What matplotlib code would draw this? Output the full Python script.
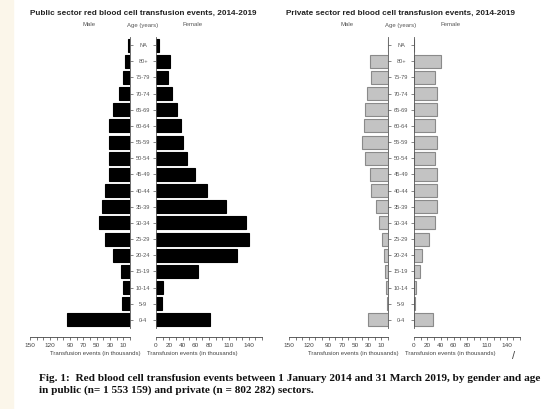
import matplotlib
matplotlib.use('Agg')
from matplotlib import pyplot as plt
from matplotlib.patches import Rectangle

ages = ['0-4', '5-9', '10-14', '15-19', '20-24', '25-29', '30-34', '35-39',
        '40-44', '45-49', '50-54', '55-59', '60-64', '65-69', '70-74',
        '75-79', '80+', 'NA']

# Transfusion events in thousands, ordered as ages above
public_male = [95, 12, 11, 14, 26, 38, 46, 42, 37, 32, 31, 32, 31, 25, 17, 11, 8, 3]
public_female = [82, 9, 11, 64, 122, 141, 136, 105, 77, 59, 47, 40, 37, 32, 24, 18, 21, 4]
private_male = [31, 2, 3, 5, 6, 9, 14, 18, 25, 28, 35, 40, 37, 35, 32, 26, 28, 0.5]
private_female = [29, 2, 3, 9, 12, 22, 32, 35, 35, 34, 31, 35, 32, 35, 34, 31, 40, 0.5]

male_ticks = list(range(0, 160, 10))
male_labels = [150, 120, 90, 70, 50, 30, 10]
female_ticks = list(range(0, 170, 10))
female_labels = [0, 20, 40, 60, 80, 110, 140]

W, H = 551, 409
fig = plt.figure(figsize=(W / 100, H / 100), dpi=100)
fig.patches.append(Rectangle((0, 0), 13 / W, 1, transform=fig.transFigure,
                             color='#fbf6ea', zorder=0))

plt.rcParams['font.family'] = 'Liberation Sans'


def px_axes(x0, x1, y0=37, y1=328):
    return fig.add_axes([x0 / W, 1 - y1 / H, (x1 - x0) / W, (y1 - y0) / H])


def style(ax, ticks, labels):
    ax.set_ylim(-0.5, len(ages) - 0.5)
    ax.spines['top'].set_visible(False)
    ax.spines['bottom'].set_position(('outward', 6.5))
    ax.spines['bottom'].set_linewidth(0.6)
    ax.spines['bottom'].set_color('#444444')
    ax.set_xticks(ticks)
    ax.set_xticklabels([str(t) if t in labels else '' for t in ticks])
    ax.tick_params(axis='x', length=2.5, width=0.5, labelsize=4.6,
                   pad=2, colors='#444444')
    ax.set_xlabel('Transfusion events (in thousands)', fontsize=4.3,
                  color='#444444')


def pyramid(x_male, x_center, x_female, male, female, face, edge, title):
    y = range(len(ages))
    axm = px_axes(x_male, x_center - 13)
    axf = px_axes(x_center + 13, x_center + 13 + 106)

    axm.barh(y, male, height=0.8, color=face, edgecolor=edge, linewidth=0.8)
    axm.set_xlim(150, 0)
    axm.spines['left'].set_visible(False)
    axm.yaxis.tick_right()
    axm.set_yticks(list(y))
    axm.set_yticklabels(ages, ha='center')
    axm.tick_params(axis='y', length=2, width=0.5, labelsize=4.1,
                    pad=7.5, colors='#555555')
    axm.spines['right'].set_linewidth(0.6)
    axm.spines['right'].set_color('#555555')
    style(axm, male_ticks, male_labels)
    axm.xaxis.set_label_coords(0.65, -0.080)

    axf.barh(y, female, height=0.8, color=face, edgecolor=edge, linewidth=0.8)
    axf.set_xlim(0, 160)
    axf.spines['right'].set_visible(False)
    axf.set_yticks(list(y))
    axf.set_yticklabels([])
    axf.tick_params(axis='y', length=2, width=0.5, colors='#555555')
    axf.spines['left'].set_linewidth(0.6)
    axf.spines['left'].set_color('#555555')
    style(axf, female_ticks, female_labels)
    axf.xaxis.set_label_coords(0.34, -0.080)

    fig.text(x_center / W, 1 - 13 / H, title, ha='center', va='center',
             fontsize=5.9, fontweight='bold', color='#222222')
    fig.text((x_center - 54) / W, 1 - 25 / H, 'Male', ha='center',
             va='center', fontsize=4.3, color='#555555')
    fig.text(x_center / W, 1 - 25 / H, 'Age (years)', ha='center',
             va='center', fontsize=4.3, color='#555555')
    fig.text((x_center + 50) / W, 1 - 25 / H, 'Female', ha='center',
             va='center', fontsize=4.3, color='#555555')


pyramid(30, 143, 156, public_male, public_female, 'black', 'black',
        'Public sector red blood cell transfusion events, 2014-2019')
pyramid(289, 401, 413, private_male, private_female, '#c3c3c3', '#8a8a8a',
        'Private sector red blood cell transfusion events, 2014-2019')

fig.text(514 / W, 1 - 356 / H, '/', ha='center', va='center',
         fontsize=8, color='#444444')

caption = ('Fig. 1:  Red blood cell transfusion events between 1 January 2014 '
           'and 31 March 2019, by gender and age\n'
           'in public (n= 1 553 159) and private (n = 802 282) sectors.')
fig.text(39 / W, 1 - 374 / H, caption, ha='left', va='top',
         fontsize=8.15, fontweight='bold', family='Liberation Serif',
         linespacing=1.3, color='#111111')

fig.savefig('out.png', dpi=100)
